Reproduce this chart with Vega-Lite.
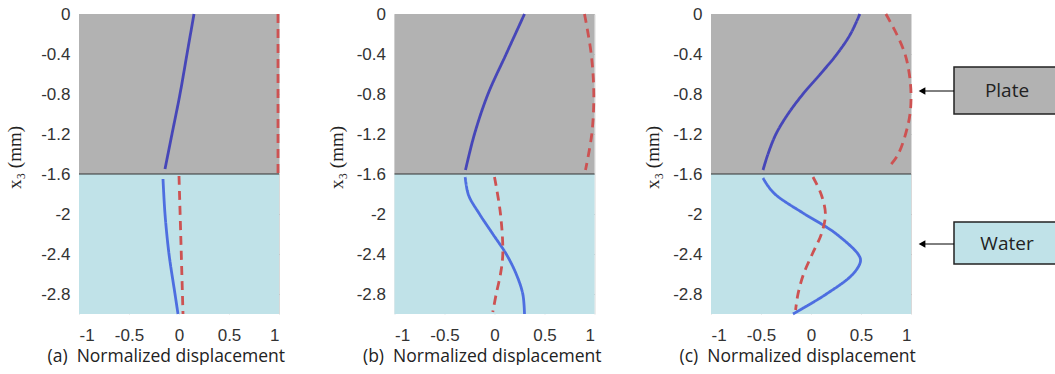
{
  "$schema": "https://vega.github.io/schema/vega-lite/v6.json",
  "background": "white",
  "padding": {"left": 5, "top": 5, "right": 0, "bottom": 0},
  "datasets": {
    "regions": [
      {"region": "plate", "top": 0, "bottom": -1.6},
      {"region": "water", "top": -1.6, "bottom": -3}
    ],
    "curves": [
      {"panel": "a", "series": "blue_plate", "y": 0, "x": 0.15},
      {"panel": "a", "series": "blue_plate", "y": -0.4, "x": 0.08},
      {"panel": "a", "series": "blue_plate", "y": -0.8, "x": 0.01},
      {"panel": "a", "series": "blue_plate", "y": -1.2, "x": -0.07},
      {"panel": "a", "series": "blue_plate", "y": -1.55, "x": -0.14},
      {"panel": "a", "series": "blue_water", "y": -1.65, "x": -0.16},
      {"panel": "a", "series": "blue_water", "y": -2.0, "x": -0.14},
      {"panel": "a", "series": "blue_water", "y": -2.4, "x": -0.1},
      {"panel": "a", "series": "blue_water", "y": -2.8, "x": -0.04},
      {"panel": "a", "series": "blue_water", "y": -3.0, "x": -0.01},
      {"panel": "a", "series": "red_plate", "y": 0, "x": 0.99},
      {"panel": "a", "series": "red_plate", "y": -1.6, "x": 0.99},
      {"panel": "a", "series": "red_water", "y": -1.62, "x": 0.0},
      {"panel": "a", "series": "red_water", "y": -2.3, "x": 0.02},
      {"panel": "a", "series": "red_water", "y": -3.0, "x": 0.04},

      {"panel": "b", "series": "blue_plate", "y": 0, "x": 0.3},
      {"panel": "b", "series": "blue_plate", "y": -0.4, "x": 0.117},
      {"panel": "b", "series": "blue_plate", "y": -0.8, "x": -0.065},
      {"panel": "b", "series": "blue_plate", "y": -1.2, "x": -0.2},
      {"panel": "b", "series": "blue_plate", "y": -1.56, "x": -0.29},
      {"panel": "b", "series": "blue_water", "y": -1.63, "x": -0.293},
      {"panel": "b", "series": "blue_water", "y": -1.81, "x": -0.26},
      {"panel": "b", "series": "blue_water", "y": -2.0, "x": -0.15},
      {"panel": "b", "series": "blue_water", "y": -2.2, "x": -0.017},
      {"panel": "b", "series": "blue_water", "y": -2.4, "x": 0.117},
      {"panel": "b", "series": "blue_water", "y": -2.6, "x": 0.217},
      {"panel": "b", "series": "blue_water", "y": -2.8, "x": 0.283},
      {"panel": "b", "series": "blue_water", "y": -3.0, "x": 0.3},
      {"panel": "b", "series": "red_plate", "y": 0, "x": 0.9},
      {"panel": "b", "series": "red_plate", "y": -0.4, "x": 0.967},
      {"panel": "b", "series": "red_plate", "y": -0.8, "x": 0.993},
      {"panel": "b", "series": "red_plate", "y": -1.2, "x": 0.973},
      {"panel": "b", "series": "red_plate", "y": -1.56, "x": 0.91},
      {"panel": "b", "series": "red_water", "y": -1.63, "x": 0.0},
      {"panel": "b", "series": "red_water", "y": -2.0, "x": 0.06},
      {"panel": "b", "series": "red_water", "y": -2.4, "x": 0.083},
      {"panel": "b", "series": "red_water", "y": -2.6, "x": 0.06},
      {"panel": "b", "series": "red_water", "y": -2.8, "x": 0.017},
      {"panel": "b", "series": "red_water", "y": -2.98, "x": -0.017},

      {"panel": "c", "series": "blue_plate", "y": 0, "x": 0.488},
      {"panel": "c", "series": "blue_plate", "y": -0.2, "x": 0.395},
      {"panel": "c", "series": "blue_plate", "y": -0.4, "x": 0.26},
      {"panel": "c", "series": "blue_plate", "y": -0.6, "x": 0.094},
      {"panel": "c", "series": "blue_plate", "y": -0.8, "x": -0.08},
      {"panel": "c", "series": "blue_plate", "y": -1.0, "x": -0.23},
      {"panel": "c", "series": "blue_plate", "y": -1.2, "x": -0.35},
      {"panel": "c", "series": "blue_plate", "y": -1.4, "x": -0.43},
      {"panel": "c", "series": "blue_plate", "y": -1.56, "x": -0.48},
      {"panel": "c", "series": "blue_water", "y": -1.64, "x": -0.48},
      {"panel": "c", "series": "blue_water", "y": -1.72, "x": -0.43},
      {"panel": "c", "series": "blue_water", "y": -1.81, "x": -0.35},
      {"panel": "c", "series": "blue_water", "y": -2.0, "x": -0.064},
      {"panel": "c", "series": "blue_water", "y": -2.11, "x": 0.12},
      {"panel": "c", "series": "blue_water", "y": -2.2, "x": 0.254},
      {"panel": "c", "series": "blue_water", "y": -2.4, "x": 0.47},
      {"panel": "c", "series": "blue_water", "y": -2.47, "x": 0.495},
      {"panel": "c", "series": "blue_water", "y": -2.6, "x": 0.42},
      {"panel": "c", "series": "blue_water", "y": -2.8, "x": 0.154},
      {"panel": "c", "series": "blue_water", "y": -3.0, "x": -0.18},
      {"panel": "c", "series": "red_plate", "y": 0, "x": 0.749},
      {"panel": "c", "series": "red_plate", "y": -0.2, "x": 0.856},
      {"panel": "c", "series": "red_plate", "y": -0.4, "x": 0.94},
      {"panel": "c", "series": "red_plate", "y": -0.6, "x": 0.983},
      {"panel": "c", "series": "red_plate", "y": -0.8, "x": 1.0},
      {"panel": "c", "series": "red_plate", "y": -1.0, "x": 0.99},
      {"panel": "c", "series": "red_plate", "y": -1.2, "x": 0.946},
      {"panel": "c", "series": "red_plate", "y": -1.4, "x": 0.873},
      {"panel": "c", "series": "red_plate", "y": -1.51, "x": 0.796},
      {"panel": "c", "series": "red_water", "y": -1.63, "x": 0.02},
      {"panel": "c", "series": "red_water", "y": -1.81, "x": 0.104},
      {"panel": "c", "series": "red_water", "y": -2.0, "x": 0.144},
      {"panel": "c", "series": "red_water", "y": -2.2, "x": 0.104},
      {"panel": "c", "series": "red_water", "y": -2.4, "x": 0.013},
      {"panel": "c", "series": "red_water", "y": -2.6, "x": -0.074},
      {"panel": "c", "series": "red_water", "y": -2.8, "x": -0.13},
      {"panel": "c", "series": "red_water", "y": -2.96, "x": -0.154}
    ],
    "notes": [
      {"label": "Plate", "bx1": 37, "bx2": 148, "by1": -0.53, "by2": -1.0, "tx": 90, "ty": -0.77, "ax1": 5, "ax2": 37},
      {"label": "Water", "bx1": 37, "bx2": 148, "by1": -2.08, "by2": -2.5, "tx": 90, "ty": -2.3, "ax1": 5, "ax2": 37}
    ]
  },
  "config": {
    "view": {"stroke": null},
    "axis": {
      "domain": false,
      "ticks": false,
      "grid": true,
      "gridColor": "#000000",
      "gridOpacity": 0.15,
      "gridWidth": 1,
      "zindex": 1,
      "labelFont": "Liberation Sans",
      "labelFontSize": 17,
      "labelColor": "#333333",
      "titleColor": "#222222",
      "titleFontWeight": "normal",
      "titleLimit": 400
    }
  },
  "spacing": 0,
  "hconcat": [
    {
      "spacing": 41.5,
      "hconcat": [
        {
          "width": 200,
          "height": 300,
          "layer": [
            {
              "data": {"name": "regions"},
              "mark": {"type": "rect"},
              "encoding": {
                "x": {"datum": -1, "type": "quantitative", "scale": {"domain": [-1, 1], "nice": false, "zero": false},
                  "axis": {"values": [-1, -0.5, 0, 0.5, 1], "labelPadding": 13, "labelExpr": "(datum.value < 0 ? '-' : '') + format(abs(datum.value), '~g')", "title": "(a)\u00a0\u00a0Normalized displacement", "titleFont": "Open Sans", "titleFontSize": 17.5, "titleAlign": "left", "titleX": -32, "titlePadding": 4}},
                "x2": {"datum": 1},
                "y": {"field": "top", "type": "quantitative", "scale": {"domain": [-3, 0], "nice": false, "zero": false},
                  "axis": {"values": [0, -0.4, -0.8, -1.2, -1.6, -2, -2.4, -2.8], "labelPadding": 9, "labelExpr": "(datum.value < 0 ? '-' : '') + format(abs(datum.value), '~g')", "title": "x\u2083 (mm)", "titleFont": "Liberation Serif", "titleFontSize": 19, "titlePadding": 16, "titleY": 143}},
                "y2": {"field": "bottom"},
                "fill": {"field": "region", "type": "nominal", "scale": {"domain": ["plate", "water"], "range": ["#b2b2b2", "#c0e2e8"]}, "legend": null}
              }
            },
            {
              "data": {"name": "regions"},
              "transform": [{"filter": "datum.region == 'water'"}],
              "mark": {"type": "rule", "color": "#333333", "strokeWidth": 1},
              "encoding": {"y": {"field": "top", "type": "quantitative"}}
            },
            {
              "data": {"name": "curves"},
              "transform": [{"filter": "datum.panel == 'a'"}],
              "mark": {"type": "line", "interpolate": "catmull-rom", "strokeWidth": 2.8},
              "encoding": {
                "x": {"field": "x", "type": "quantitative"},
                "y": {"field": "y", "type": "quantitative"},
                "color": {"field": "series", "type": "nominal", "scale": {"domain": ["blue_plate", "blue_water", "red_plate", "red_water"], "range": ["#4646b8", "#4d6ee0", "#cd5252", "#cd5252"]}, "legend": null},
                "strokeDash": {"field": "series", "type": "nominal", "scale": {"domain": ["blue_plate", "blue_water", "red_plate", "red_water"], "range": [[1, 0], [1, 0], [9, 6], [9, 6]]}, "legend": null},
                "order": {"field": "y", "sort": "descending"}
              }
            }
          ]
        },
        {
          "width": 200,
          "height": 300,
          "layer": [
            {
              "data": {"name": "regions"},
              "mark": {"type": "rect"},
              "encoding": {
                "x": {"datum": -1, "type": "quantitative", "scale": {"domain": [-1, 1], "nice": false, "zero": false},
                  "axis": {"values": [-1, -0.5, 0, 0.5, 1], "labelPadding": 13, "labelExpr": "(datum.value < 0 ? '-' : '') + format(abs(datum.value), '~g')", "title": "(b)\u00a0\u00a0Normalized displacement", "titleFont": "Open Sans", "titleFontSize": 17.5, "titleAlign": "left", "titleX": -32, "titlePadding": 4}},
                "x2": {"datum": 1},
                "y": {"field": "top", "type": "quantitative", "scale": {"domain": [-3, 0], "nice": false, "zero": false},
                  "axis": {"values": [0, -0.4, -0.8, -1.2, -1.6, -2, -2.4, -2.8], "labelPadding": 9, "labelExpr": "(datum.value < 0 ? '-' : '') + format(abs(datum.value), '~g')", "title": "x\u2083 (mm)", "titleFont": "Liberation Serif", "titleFontSize": 19, "titlePadding": 10, "titleY": 143}},
                "y2": {"field": "bottom"},
                "fill": {"field": "region", "type": "nominal", "scale": {"domain": ["plate", "water"], "range": ["#b2b2b2", "#c0e2e8"]}, "legend": null}
              }
            },
            {
              "data": {"name": "regions"},
              "transform": [{"filter": "datum.region == 'water'"}],
              "mark": {"type": "rule", "color": "#333333", "strokeWidth": 1},
              "encoding": {"y": {"field": "top", "type": "quantitative"}}
            },
            {
              "data": {"name": "curves"},
              "transform": [{"filter": "datum.panel == 'b'"}],
              "mark": {"type": "line", "interpolate": "catmull-rom", "strokeWidth": 2.8},
              "encoding": {
                "x": {"field": "x", "type": "quantitative"},
                "y": {"field": "y", "type": "quantitative"},
                "color": {"field": "series", "type": "nominal", "scale": {"domain": ["blue_plate", "blue_water", "red_plate", "red_water"], "range": ["#4646b8", "#4d6ee0", "#cd5252", "#cd5252"]}, "legend": null},
                "strokeDash": {"field": "series", "type": "nominal", "scale": {"domain": ["blue_plate", "blue_water", "red_plate", "red_water"], "range": [[1, 0], [1, 0], [9, 6], [9, 6]]}, "legend": null},
                "order": {"field": "y", "sort": "descending"}
              }
            }
          ]
        },
        {
          "width": 200,
          "height": 300,
          "layer": [
            {
              "data": {"name": "regions"},
              "mark": {"type": "rect"},
              "encoding": {
                "x": {"datum": -1, "type": "quantitative", "scale": {"domain": [-1, 1], "nice": false, "zero": false},
                  "axis": {"values": [-1, -0.5, 0, 0.5, 1], "labelPadding": 13, "labelExpr": "(datum.value < 0 ? '-' : '') + format(abs(datum.value), '~g')", "title": "(c)\u00a0\u00a0Normalized displacement", "titleFont": "Open Sans", "titleFontSize": 17.5, "titleAlign": "left", "titleX": -32, "titlePadding": 4}},
                "x2": {"datum": 1},
                "y": {"field": "top", "type": "quantitative", "scale": {"domain": [-3, 0], "nice": false, "zero": false},
                  "axis": {"values": [0, -0.4, -0.8, -1.2, -1.6, -2, -2.4, -2.8], "labelPadding": 9, "labelExpr": "(datum.value < 0 ? '-' : '') + format(abs(datum.value), '~g')", "title": "x\u2083 (mm)", "titleFont": "Liberation Serif", "titleFontSize": 19, "titlePadding": 10, "titleY": 143}},
                "y2": {"field": "bottom"},
                "fill": {"field": "region", "type": "nominal", "scale": {"domain": ["plate", "water"], "range": ["#b2b2b2", "#c0e2e8"]}, "legend": null}
              }
            },
            {
              "data": {"name": "regions"},
              "transform": [{"filter": "datum.region == 'water'"}],
              "mark": {"type": "rule", "color": "#333333", "strokeWidth": 1},
              "encoding": {"y": {"field": "top", "type": "quantitative"}}
            },
            {
              "data": {"name": "curves"},
              "transform": [{"filter": "datum.panel == 'c'"}],
              "mark": {"type": "line", "interpolate": "catmull-rom", "strokeWidth": 2.8},
              "encoding": {
                "x": {"field": "x", "type": "quantitative"},
                "y": {"field": "y", "type": "quantitative"},
                "color": {"field": "series", "type": "nominal", "scale": {"domain": ["blue_plate", "blue_water", "red_plate", "red_water"], "range": ["#4646b8", "#4d6ee0", "#cd5252", "#cd5252"]}, "legend": null},
                "strokeDash": {"field": "series", "type": "nominal", "scale": {"domain": ["blue_plate", "blue_water", "red_plate", "red_water"], "range": [[1, 0], [1, 0], [9, 6], [9, 6]]}, "legend": null},
                "order": {"field": "y", "sort": "descending"}
              }
            }
          ]
        }
      ]
    },
    {
      "width": 140,
      "height": 300,
      "data": {"name": "notes"},
      "layer": [
        {
          "mark": {"type": "rect", "stroke": "#222222", "strokeWidth": 1.5},
          "encoding": {
            "x": {"field": "bx1", "type": "quantitative", "scale": {"domain": [0, 140], "nice": false, "zero": false}, "axis": null},
            "x2": {"field": "bx2"},
            "y": {"field": "by1", "type": "quantitative", "scale": {"domain": [-3, 0], "nice": false, "zero": false}, "axis": null},
            "y2": {"field": "by2"},
            "fill": {"field": "label", "type": "nominal", "scale": {"domain": ["Plate", "Water"], "range": ["#b2b2b2", "#c0e2e8"]}, "legend": null}
          }
        },
        {
          "mark": {"type": "text", "font": "Open Sans", "fontSize": 19, "color": "#222222", "align": "center", "baseline": "middle"},
          "encoding": {
            "x": {"field": "tx", "type": "quantitative"},
            "y": {"field": "ty", "type": "quantitative"},
            "text": {"field": "label"}
          }
        },
        {
          "mark": {"type": "rule", "color": "#000000", "strokeWidth": 1},
          "encoding": {
            "x": {"field": "ax1", "type": "quantitative"},
            "x2": {"field": "ax2"},
            "y": {"field": "ty", "type": "quantitative"}
          }
        },
        {
          "mark": {"type": "point", "shape": "triangle-left", "filled": true, "color": "#000000", "size": 60, "opacity": 1},
          "encoding": {
            "x": {"field": "ax1", "type": "quantitative"},
            "y": {"field": "ty", "type": "quantitative"}
          }
        }
      ]
    }
  ]
}
